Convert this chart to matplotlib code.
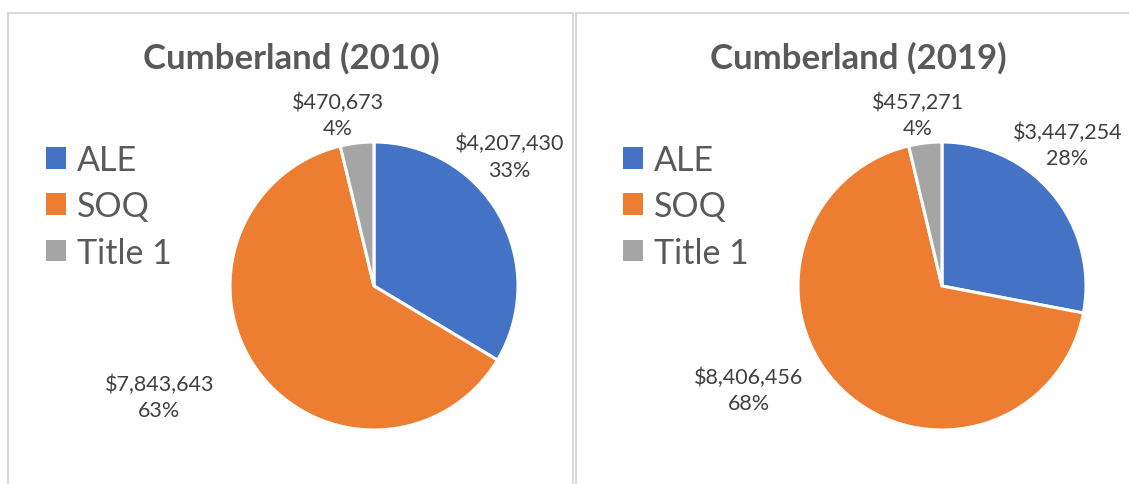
import matplotlib
matplotlib.use("Agg")
import matplotlib.pyplot as plt
from matplotlib.patches import Rectangle, Patch

# ---- data ----
categories = ["ALE", "SOQ", "Title 1"]
titles = ["Cumberland (2010)", "Cumberland (2019)"]
values_2010 = [4207430, 7843643, 470673]
values_2019 = [3447254, 8406456, 457271]
pct_2010 = [33, 63, 4]
pct_2019 = [28, 68, 4]
series = [values_2010, values_2019]
pcts = [pct_2010, pct_2019]

# ---- style / layout ----
colors = ["#4472C4", "#ED7D31", "#A5A5A5"]
W, H = 1129, 485
FONT = "Lato"
centers = [(374, 287), (942, 287)]
radius_px = 144
title_x = [291, 858]
title_y = 58
legend_x = [46, 623]
label_pos = [
    [(0.94, 0.90), (-1.49, -0.77), (-0.25, 1.19)],
    [(0.87, 0.98), (-1.34, -0.72), (-0.17, 1.19)],
]

fig = plt.figure(figsize=(W / 100, H / 100), dpi=100)
fig.patch.set_facecolor("white")

def fx(px):
    return px / W

def fy(py):
    return 1 - py / H

border = "#D9D9D9"
fig.patches.append(Rectangle((fx(7.5), fy(520)), fx(573) - fx(7.5), fy(14) - fy(520),
                             transform=fig.transFigure, fill=False, edgecolor=border, lw=1.5))
fig.patches.append(Rectangle((fx(576), fy(520)), fx(1140) - fx(576), fy(14) - fy(520),
                             transform=fig.transFigure, fill=False, edgecolor=border, lw=1.5))

for i, vals in enumerate(series):
    cx, cy = centers[i]
    ax = fig.add_axes([fx(cx - radius_px), fy(cy + radius_px), 2 * radius_px / W, 2 * radius_px / H])
    wedges, _ = ax.pie(vals, colors=colors, startangle=90, counterclock=False,
                       radius=1.0, wedgeprops=dict(edgecolor="white", linewidth=2.2))
    ax.set_xlim(-1, 1)
    ax.set_ylim(-1, 1)
    ax.set_aspect("equal")
    ax.axis("off")
    for j, v in enumerate(vals):
        dx, dy = label_pos[i][j]
        ax.text(dx, dy, f"${v:,}\n{pcts[i][j]}%", ha="center", va="center",
                fontsize=15.5, color="#404040", family=FONT, linespacing=1.38,
                clip_on=False)
    fig.text(fx(title_x[i]), fy(title_y), titles[i], ha="center", va="center",
             fontsize=25, fontweight="bold", color="#595959", family=FONT)
    handles = [Patch(facecolor=c, edgecolor="none") for c in colors]
    fig.legend(handles, categories, loc="upper left",
               bbox_to_anchor=(fx(legend_x[i]), fy(145)), frameon=False,
               prop=dict(family=FONT, size=24.5), labelcolor="#595959",
               handlelength=0.6, handleheight=0.6, handletextpad=0.3,
               labelspacing=0.42, borderaxespad=0, borderpad=0)

fig.savefig("out.png", dpi=100, facecolor="white")
